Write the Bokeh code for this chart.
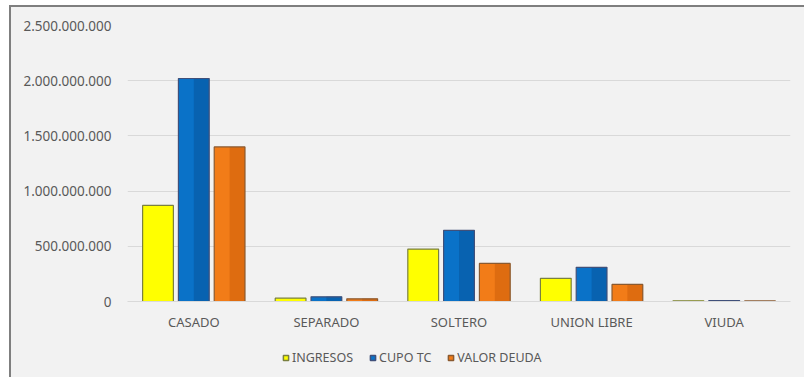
from bokeh.plotting import figure
from bokeh.layouts import column
from bokeh.models import ColumnDataSource, CustomJSTickFormatter, Legend, LegendItem, FixedTicker, Range1d
from bokeh.transform import dodge
from bokeh.embed import file_html
from bokeh.resources import INLINE

categories = ["CASADO", "SEPARADO", "SOLTERO", "UNION LIBRE", "VIUDA"]
ingresos = [870e6, 30e6, 475e6, 210e6, 6e6]
cupo_tc = [2020e6, 42e6, 645e6, 310e6, 8e6]
valor_deuda = [1400e6, 24e6, 345e6, 155e6, 5e6]
series_names = ["INGRESOS", "CUPO TC", "VALOR DEUDA"]
y_ticks = [0, 500e6, 1000e6, 1500e6, 2000e6, 2500e6]

src = ColumnDataSource(dict(cat=categories, ing=ingresos, cupo=cupo_tc, deuda=valor_deuda))

BG = "#f2f2f2"
TXT = "#595959"
FONT = "Noto Sans"
W = 0.232

p = figure(x_range=categories, y_range=Range1d(0, 2.5e9), width=793, height=330,
           output_backend="svg", toolbar_location=None,
           min_border_left=116, min_border_right=14, min_border_top=18, min_border_bottom=36,
           background_fill_color=BG, border_fill_color=BG, outline_line_color=None)

# field, fill, shade (right side), outline, offset
cols = [("ing", "#ffff00", "#ffff00", "#7a8040", -0.27),
        ("cupo", "#0a72c8", "#0862b0", "#40507a", 0.0),
        ("deuda", "#f27c18", "#de6c10", "#8a5a30", 0.27)]
for field, fill, shade, line, off in cols:
    p.vbar(x=dodge("cat", off, range=p.x_range), top=field, width=W, source=src,
           fill_color=fill, line_color=None)
    p.vbar(x=dodge("cat", off + W / 4, range=p.x_range), top=field, width=W / 2, source=src,
           fill_color=shade, line_color=None)
    p.vbar(x=dodge("cat", off, range=p.x_range), top=field, width=W, source=src,
           fill_alpha=0, line_color=line, line_width=1.2)

p.yaxis.ticker = FixedTicker(ticks=y_ticks)
p.yaxis.formatter = CustomJSTickFormatter(code="""
return Math.round(tick).toString().replace(/\\B(?=(\\d{3})+(?!\\d))/g, '.');
""")
p.yaxis.axis_line_color = None
p.yaxis.major_tick_line_color = None
p.yaxis.minor_tick_line_color = None
p.yaxis.major_label_text_color = TXT
p.yaxis.major_label_text_font = FONT
p.yaxis.major_label_text_font_size = "13.5px"
p.yaxis.major_label_standoff = 10

p.xaxis.axis_line_color = "#d9d9d9"
p.xaxis.major_tick_line_color = None
p.xaxis.minor_tick_line_color = None
p.xaxis.major_label_text_color = TXT
p.xaxis.major_label_text_font = FONT
p.xaxis.major_label_text_font_size = "13px"
p.xaxis.major_label_standoff = 5

p.xgrid.grid_line_color = None
p.ygrid.grid_line_color = "#d9d9d9"
p.ygrid.grid_line_width = 1

# legend strip: same series as markers, kept outside its visible y-range so only the legend shows
pl = figure(x_range=categories, y_range=Range1d(-2, -1), width=793, height=40,
            output_backend="svg", toolbar_location=None,
            x_axis_type=None, y_axis_type=None,
            min_border_left=116, min_border_right=14, min_border_top=0, min_border_bottom=0,
            background_fill_color=BG, border_fill_color=BG, outline_line_color=None)
pl.xgrid.grid_line_color = None
pl.ygrid.grid_line_color = None
leg_rs = []
for field, fill, shade, line, off in cols:
    leg_rs.append(pl.scatter(x=dodge("cat", off, range=pl.x_range), y=field, source=src,
                             marker="square", size=9, fill_color=fill, line_color=line,
                             line_width=1.5))
legend = Legend(items=[LegendItem(label=n, renderers=[r]) for n, r in zip(series_names, leg_rs)],
                orientation="horizontal", location=(152, 11),
                background_fill_alpha=0, border_line_color=None,
                label_text_color=TXT, label_text_font=FONT, label_text_font_size="12.5px",
                glyph_width=13, glyph_height=13, spacing=13, label_standoff=0,
                padding=2, margin=0)
pl.add_layout(legend, "center")

layout = column(p, pl, spacing=0)
layout.styles = {"border-left": "2px solid #7f7f7f", "border-top": "2px solid #7f7f7f",
                 "margin-left": "9px", "margin-top": "5px", "gap": "0px",
                 "background-color": BG}

open("out.html", "w").write(file_html(layout, INLINE))
